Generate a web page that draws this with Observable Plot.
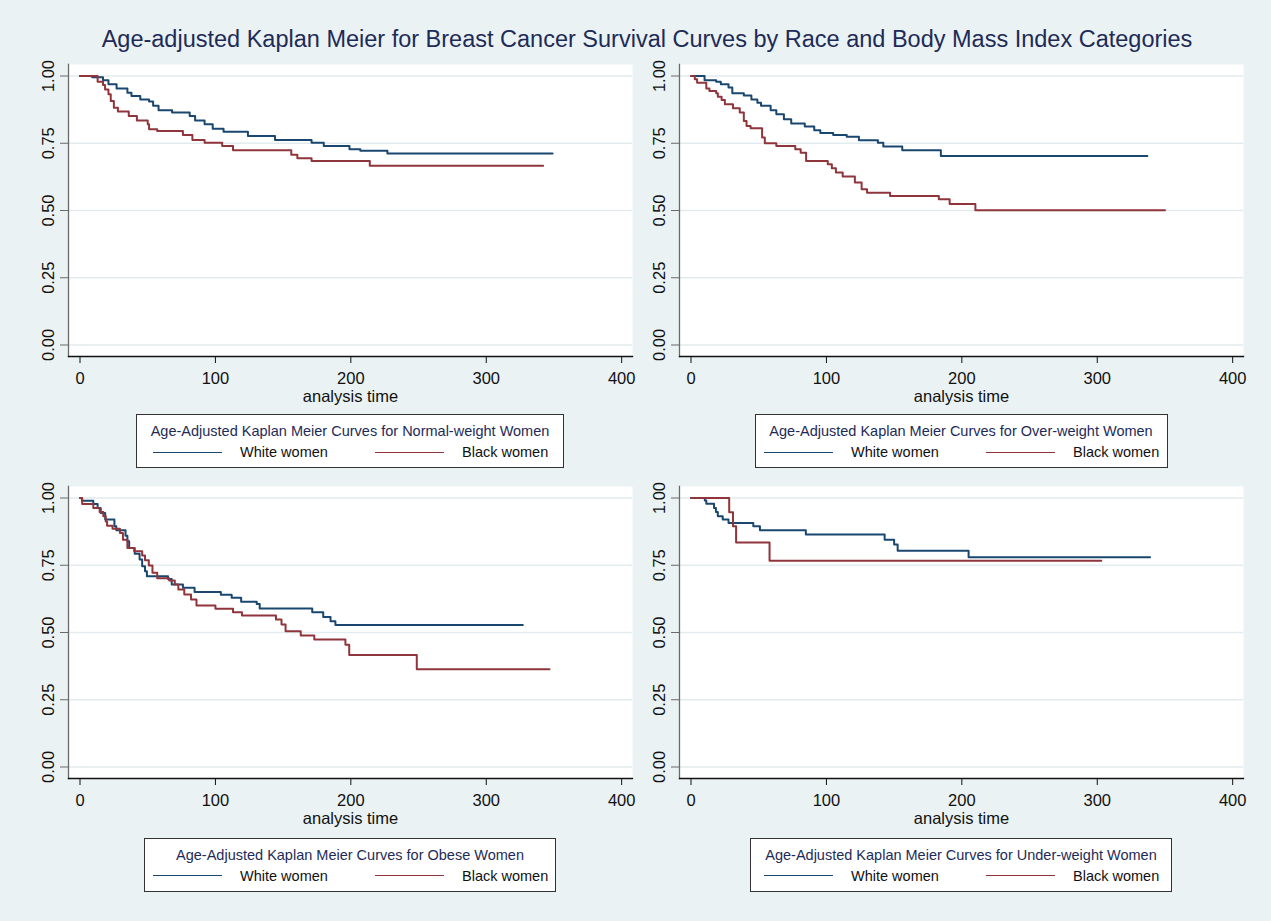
<!DOCTYPE html>
<html>
<head>
<meta charset="utf-8">
<script src="https://cdn.jsdelivr.net/npm/d3@7"></script>
<script src="https://cdn.jsdelivr.net/npm/@observablehq/plot@0.6"></script>
<style>
  html, body { margin: 0; padding: 0; background: #eaf2f3; }
  body { width: 1271px; height: 921px; position: relative; overflow: hidden;
         font-family: "Liberation Sans", Arial, Helvetica, sans-serif; }
  #title { position: absolute; left: 0; width: 1294px; top: 25px; text-align: center;
           font-size: 23.5px; line-height: 28px; color: #1e2b58; white-space: nowrap; }
  .panel { position: absolute; width: 620px; height: 370px; }
  .legend { position: absolute; height: 54px; background: #fff; border: 1px solid #333;
            box-sizing: border-box; }
  .legend .ltitle { position: absolute; left: 0; right: 0; top: 7px; text-align: center;
                    font-size: 14.5px; line-height: 18px; color: #1e2b58; white-space: nowrap; }
  .legend .row { position: absolute; top: 28px; width: 395px; height: 18px; left: 50%; margin-left: -197px; }
  .legend .entry { position: absolute; top: 0; height: 18px; white-space: nowrap; }
  .legend .swatch { position: absolute; left: 0; top: 8.5px; width: 69px; height: 0; border-top: 1.5px solid; }
  .legend .lab { position: absolute; left: 87px; top: 0; font-size: 14.5px; line-height: 18px; color: #111; }
</style>
</head>
<body>
<div id="title">Age-adjusted Kaplan Meier for Breast Cancer Survival Curves by Race and Body Mass Index Categories</div>
<div id="root"></div>
<script>
// ---------------- data ----------------
const xTicks = [0, 100, 200, 300, 400];
const yTicks = [0, 0.25, 0.5, 0.75, 1];
const xLabel = "analysis time";
const seriesNames = ["White women", "Black women"];
const panelTitles = [
  "Age-Adjusted Kaplan Meier Curves for Normal-weight Women",
  "Age-Adjusted Kaplan Meier Curves for Over-weight Women",
  "Age-Adjusted Kaplan Meier Curves for Obese Women",
  "Age-Adjusted Kaplan Meier Curves for Under-weight Women"
];

// Normal-weight
const normalWhiteT = [0, 9, 17, 21, 27, 35, 38, 44.5, 51, 54, 58, 68, 81, 85, 92, 98, 106, 124, 144, 171, 180, 199, 207, 227, 349];
const normalWhiteS = [1, 0.995, 0.984, 0.969, 0.954, 0.938, 0.926, 0.913, 0.905, 0.889, 0.873, 0.864, 0.851, 0.835, 0.821, 0.804, 0.793, 0.777, 0.762, 0.752, 0.740, 0.728, 0.722, 0.712, 0.712];
const normalBlackT = [0, 13, 17, 18.5, 21, 22.7, 25, 28, 36, 42, 50, 51, 57, 76, 83, 92, 105, 113, 156, 160.5, 171, 214, 342];
const normalBlackS = [1, 0.979, 0.967, 0.950, 0.932, 0.907, 0.882, 0.868, 0.851, 0.835, 0.821, 0.802, 0.796, 0.781, 0.762, 0.752, 0.740, 0.724, 0.707, 0.694, 0.684, 0.666, 0.666];

// Over-weight
const overWhiteT = [0, 10, 18.6, 22, 27.7, 30.5, 39, 44.6, 49, 51.7, 58.8, 63, 68.6, 74, 84, 91, 95.5, 105, 115, 124, 138, 142, 156, 184.5, 337];
const overWhiteS = [1, 0.984, 0.979, 0.969, 0.957, 0.936, 0.928, 0.913, 0.901, 0.889, 0.873, 0.858, 0.839, 0.823, 0.812, 0.798, 0.788, 0.781, 0.774, 0.761, 0.752, 0.738, 0.724, 0.703, 0.703];
const overBlackT = [0, 2.8, 4.5, 11.3, 13.6, 18.6, 19.8, 22.6, 25, 31, 36, 39, 41, 44, 52.5, 54.5, 63, 77, 81, 85, 101, 104, 107, 112, 121, 126, 130, 147, 183, 191, 210, 350];
const overBlackS = [1, 0.988, 0.975, 0.954, 0.944, 0.936, 0.923, 0.911, 0.895, 0.880, 0.864, 0.833, 0.814, 0.806, 0.771, 0.750, 0.740, 0.728, 0.715, 0.684, 0.672, 0.657, 0.641, 0.626, 0.604, 0.579, 0.566, 0.554, 0.542, 0.524, 0.501, 0.501];

// Obese
const obeseWhiteT = [0, 1.4, 9.8, 13, 15.3, 18.6, 25.4, 26.8, 33.6, 35, 36.3, 40.4, 44, 45.9, 48, 49.4, 65, 67.7, 76, 84.6, 104, 112, 119, 130.5, 132.7, 171.5, 179.6, 185, 188.6, 327];
const obeseWhiteS = [1, 0.990, 0.978, 0.963, 0.944, 0.920, 0.895, 0.880, 0.860, 0.839, 0.814, 0.793, 0.771, 0.746, 0.728, 0.709, 0.699, 0.678, 0.666, 0.651, 0.640, 0.629, 0.614, 0.606, 0.589, 0.575, 0.558, 0.542, 0.528, 0.528];
const obeseBlackT = [0, 1.6, 9.8, 14.5, 17.2, 19, 20, 24, 29.5, 31.7, 35, 40, 45.9, 48, 50.8, 53.5, 57, 65.8, 70, 72.6, 77, 82, 86, 100, 113, 119.6, 144.7, 148.8, 151.8, 163, 173, 196, 198.8, 248.7, 346.7];
const obeseBlackS = [1, 0.978, 0.963, 0.948, 0.932, 0.913, 0.897, 0.886, 0.870, 0.845, 0.814, 0.802, 0.786, 0.769, 0.749, 0.722, 0.702, 0.693, 0.678, 0.660, 0.641, 0.623, 0.600, 0.588, 0.575, 0.563, 0.548, 0.530, 0.505, 0.489, 0.474, 0.454, 0.416, 0.363, 0.363];

// Under-weight
const underWhiteT = [0, 10.2, 11.3, 17, 18.4, 19.8, 23.4, 27.7, 46, 50.9, 84.8, 143, 150, 152.6, 205, 339];
const underWhiteS = [1, 0.991, 0.979, 0.963, 0.948, 0.932, 0.920, 0.907, 0.895, 0.880, 0.864, 0.845, 0.827, 0.804, 0.780, 0.780];
const underBlackT = [0, 28.2, 31, 33.3, 58, 303];
const underBlackS = [1, 0.947, 0.895, 0.835, 0.767, 0.767];

// ---------------- layout / style ----------------
const FONT = '"Liberation Sans", Arial, Helvetica, sans-serif';
const WHITE_COLOR = "#1a476f";
const BLACK_COLOR = "#90353b";
const X_DOMAIN = [-8.5, 408];
const Y_DOMAIN = [-0.0428, 1.0428];

const panels = [
  {title: panelTitles[0], white: [normalWhiteT, normalWhiteS], black: [normalBlackT, normalBlackS], left: 20,  top: 50,  legW: 428, legTop: 414},
  {title: panelTitles[1], white: [overWhiteT, overWhiteS],     black: [overBlackT, overBlackS],     left: 631, top: 50,  legW: 413, legTop: 414},
  {title: panelTitles[2], white: [obeseWhiteT, obeseWhiteS],   black: [obeseBlackT, obeseBlackS],   left: 20,  top: 472, legW: 412, legTop: 837.5},
  {title: panelTitles[3], white: [underWhiteT, underWhiteS],   black: [underBlackT, underBlackS],   left: 631, top: 472, legW: 422, legTop: 837.5}
];

const toRows = ([T, S]) => T.map((t, i) => ({t, s: S[i]}));
const root = document.getElementById("root");

for (const p of panels) {
  const W = 620, H = 370, mL = 48, mR = 8, mT = 14, mB = 64;
  const chart = Plot.plot({
    width: W, height: H,
    marginLeft: mL, marginRight: mR, marginTop: mT, marginBottom: mB,
    style: {background: "transparent", fontFamily: FONT, fontSize: "16.5px", color: "#111", overflow: "visible"},
    x: {domain: X_DOMAIN},
    y: {domain: Y_DOMAIN},
    marks: [
      Plot.frame({fill: "white", stroke: null}),
      Plot.gridY(yTicks, {stroke: "#e2ebee", strokeOpacity: 1, strokeWidth: 1.5}),
      Plot.line(toRows(p.white), {x: "t", y: "s", curve: "step-after", stroke: WHITE_COLOR, strokeWidth: 2}),
      Plot.line(toRows(p.black), {x: "t", y: "s", curve: "step-after", stroke: BLACK_COLOR, strokeWidth: 2}),
      Plot.frame({anchor: "left", stroke: "#6a6a6a", strokeWidth: 1.3}),
      Plot.frame({anchor: "bottom", stroke: "#111", strokeWidth: 1.3}),
      Plot.axisY(yTicks, {anchor: "left", tickRotate: -90, tickSize: 8, tickPadding: 6.5,
                          tickFormat: d3.format(".2f"), label: null, stroke: "#6a6a6a", fill: "#111"}),
      Plot.axisX(xTicks, {anchor: "bottom", tickSize: 7, tickPadding: 9, tickFormat: d3.format("d"),
                          label: xLabel, labelAnchor: "center", labelArrow: "none", labelOffset: 45,
                          stroke: "#111", fill: "#111"})
    ]
  });
  const wrap = document.createElement("div");
  wrap.className = "panel";
  wrap.style.left = p.left + "px";
  wrap.style.top = p.top + "px";
  wrap.appendChild(chart);
  root.appendChild(wrap);

  // legend box centred under the plot frame
  const frameCenter = p.left + mL + (W - mL - mR) / 2;
  const leg = document.createElement("div");
  leg.className = "legend";
  leg.style.width = p.legW + "px";
  leg.style.left = (frameCenter - p.legW / 2) + "px";
  leg.style.top = p.legTop + "px";
  const lt = document.createElement("div");
  lt.className = "ltitle";
  lt.textContent = p.title;
  leg.appendChild(lt);
  const row = document.createElement("div");
  row.className = "row";
  [[seriesNames[0], WHITE_COLOR, 0], [seriesNames[1], BLACK_COLOR, 222]].forEach(([name, col, off]) => {
    const e = document.createElement("div");
    e.className = "entry";
    e.style.left = off + "px";
    const sw = document.createElement("div");
    sw.className = "swatch";
    sw.style.borderTopColor = col;
    const lb = document.createElement("div");
    lb.className = "lab";
    lb.textContent = name;
    e.appendChild(sw); e.appendChild(lb);
    row.appendChild(e);
  });
  leg.appendChild(row);
  root.appendChild(leg);
}
</script>
</body>
</html>
